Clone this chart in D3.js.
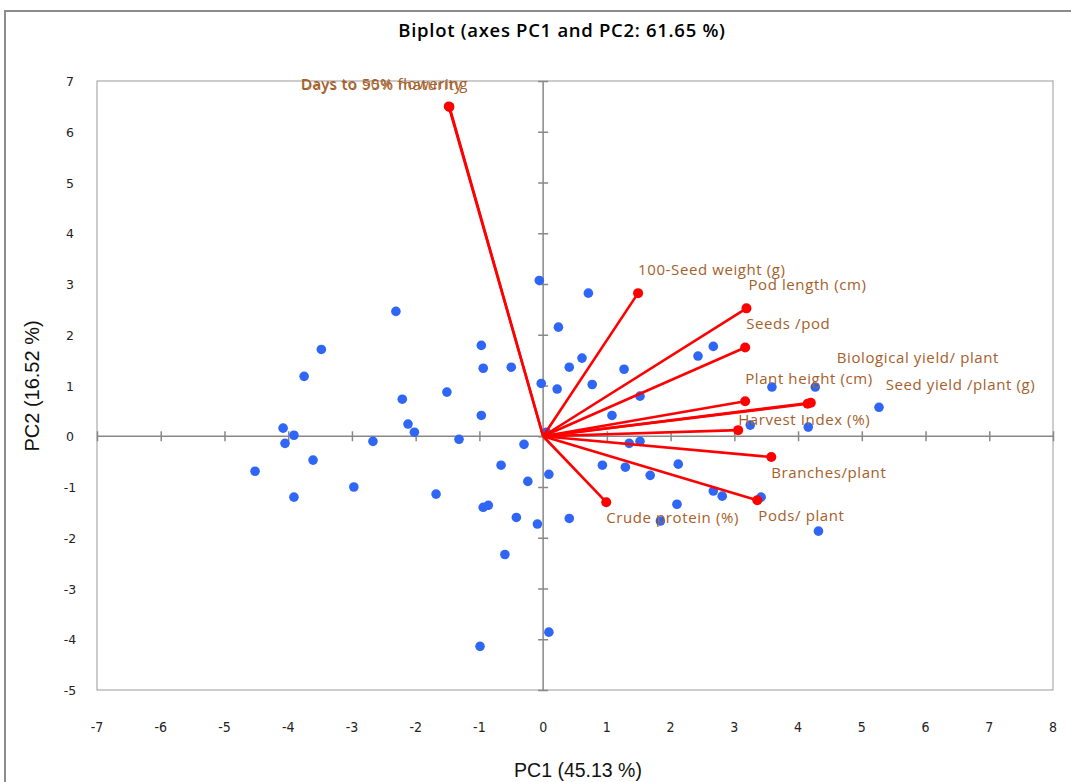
<!DOCTYPE html>
<html>
<head>
<meta charset="utf-8">
<script src="https://cdn.jsdelivr.net/npm/d3@7"></script>
<style>
  body { margin: 0; background: #fff; }
  .var-label { font-family: "Open Sans", sans-serif; font-size: 15px; letter-spacing: 0.6px; fill: #A5602A; }
</style>
</head>
<body>
<svg id="biplot" width="1071" height="782"></svg>
<script>
const SVG = d3.select('#biplot');

// observations (PC1, PC2)
const OBS_PC1 = [-0.06, 0.71, 0.24, -2.31, -0.97, -0.94, -0.50, -3.48, -3.75, 0.41,
    0.61, 1.27, -0.03, 0.22, 0.77, -1.51, 1.52, -0.97, 1.08, -1.32,
    -0.30, 0.05, 1.35, 1.52, 2.43, 2.67, 3.59, 4.27, 5.27, 3.25,
    4.16, 0.93, 1.29, 1.68, 2.12, 2.67, 2.81, 3.42, 2.10, 1.84,
    4.32, -2.21, -4.08, -2.12, -2.02, -3.91, -4.05, -2.67, -3.61, -4.52,
    -0.66, 0.09, -2.97, -0.24, -3.91, -1.68, -0.94, -0.86, -0.42, -0.09,
    0.41, -0.60, 0.09, -0.99];
const OBS_PC2 = [3.07, 2.82, 2.15, 2.46, 1.79, 1.34, 1.36, 1.71, 1.18, 1.36,
    1.54, 1.32, 1.04, 0.93, 1.02, 0.87, 0.79, 0.41, 0.41, -0.06,
    -0.16, 0.08, -0.14, -0.10, 1.58, 1.77, 0.97, 0.97, 0.57, 0.22,
    0.18, -0.57, -0.61, -0.77, -0.55, -1.08, -1.18, -1.20, -1.34, -1.67,
    -1.87, 0.73, 0.16, 0.24, 0.08, 0.02, -0.14, -0.10, -0.47, -0.69,
    -0.57, -0.75, -1.00, -0.89, -1.20, -1.14, -1.40, -1.36, -1.60, -1.73,
    -1.62, -2.33, -3.86, -4.14];

// variables (loadings scaled)
const VARIABLES = ['Days to 50% flowering', 'Days to 95% maturity', '100-Seed weight (g)',
    'Pod length (cm)', 'Seeds /pod', 'Biological yield/ plant', 'Seed yield /plant (g)',
    'Plant height (cm)', 'Harvest Index  (%)', 'Branches/plant', 'Pods/ plant', 'Crude protein (%)'];
const VAR_PC1 = [-1.48, -1.47, 1.49, 3.19, 3.17, 4.20, 4.15, 3.17, 3.06, 3.58, 3.36, 0.99];
const VAR_PC2 = [6.50, 6.49, 2.82, 2.52, 1.75, 0.66, 0.64, 0.69, 0.12, -0.41, -1.26, -1.30];

// label offsets from the arrow tip, px
const LABEL_DX = [-148, -148, 0, 2, 1, 26, 78, 0, 0, 0, 1, 0];
const LABEL_DY = [-22, -22, -23, -23, -23, -45, -19, -22, -10, 16, 16, 16];

const X_TICKS = d3.range(-7, 9);
const Y_TICKS = d3.range(-5, 8);

const LEFT = 97, RIGHT = 1053, TOP = 81, BOTTOM = 690;

const x = d3.scaleLinear().domain([-7, 8]).range([LEFT, RIGHT]);
const y = d3.scaleLinear().domain([-5, 7]).range([BOTTOM, TOP]);

// outer chart frame
SVG.append('rect')
    .attr('x', 5).attr('y', 11)
    .attr('width', 1100).attr('height', 800)
    .attr('fill', 'none')
    .attr('stroke', '#8c8c8c')
    .attr('stroke-width', 2);

// title
SVG.append('text')
    .attr('x', 562).attr('y', 37)
    .attr('text-anchor', 'middle')
    .style('font-family', '"Open Sans", sans-serif')
    .style('font-size', '18.5px')
    .style('font-weight', 600)
    .style('letter-spacing', '0.7px')
    .attr('fill', '#000')
    .text('Biplot (axes PC1 and PC2: 61.65 %)');

// plot box
SVG.append('rect')
    .attr('x', LEFT).attr('y', TOP)
    .attr('width', RIGHT - LEFT).attr('height', BOTTOM - TOP)
    .attr('fill', 'none')
    .attr('stroke', '#9a9a9a')
    .attr('stroke-width', 1);

// axes through the origin
const xAxis = d3.axisBottom(x).tickValues(X_TICKS).tickSize(10).tickFormat('');
SVG.append('g')
    .attr('transform', `translate(0,${y(0) - 5})`)
    .call(xAxis)
    .call(g => g.select('.domain').remove())
    .call(g => g.selectAll('line').attr('stroke', '#888').attr('stroke-width', 1.5));
SVG.append('line')
    .attr('x1', LEFT).attr('x2', RIGHT)
    .attr('y1', y(0)).attr('y2', y(0))
    .attr('stroke', '#888').attr('stroke-width', 1.5);

const yAxis = d3.axisRight(y).tickValues(Y_TICKS).tickSize(10).tickFormat('');
SVG.append('g')
    .attr('transform', `translate(${x(0) - 5},0)`)
    .call(yAxis)
    .call(g => g.select('.domain').remove())
    .call(g => g.selectAll('line').attr('stroke', '#888').attr('stroke-width', 1.5));
SVG.append('line')
    .attr('x1', x(0)).attr('x2', x(0))
    .attr('y1', TOP).attr('y2', BOTTOM)
    .attr('stroke', '#888').attr('stroke-width', 1.5);

// tick labels
SVG.selectAll('.x-tick-label')
    .data(X_TICKS)
    .enter()
    .append('text')
    .attr('class', 'x-tick-label')
    .attr('x', d => x(d))
    .attr('y', 732)
    .attr('text-anchor', 'middle')
    .style('font-family', '"Liberation Sans Narrow", "DejaVu Sans Condensed", sans-serif')
    .style('font-size', '14px')
    .attr('fill', '#222')
    .text(d => d);

SVG.selectAll('.y-tick-label')
    .data(Y_TICKS)
    .enter()
    .append('text')
    .attr('class', 'y-tick-label')
    .attr('x', 70)
    .attr('y', d => y(d) + 5)
    .attr('text-anchor', 'middle')
    .style('font-family', '"DejaVu Sans", sans-serif')
    .style('font-size', '12.5px')
    .attr('fill', '#222')
    .text(d => d);

// axis titles
SVG.append('text')
    .attr('x', 578).attr('y', 777)
    .attr('text-anchor', 'middle')
    .style('font-family', '"Liberation Sans", Arial, sans-serif')
    .style('font-size', '19.5px')
    .attr('fill', '#111')
    .text('PC1 (45.13 %)');

SVG.append('text')
    .attr('transform', 'translate(39,386) rotate(-90)')
    .attr('text-anchor', 'middle')
    .style('font-family', '"Liberation Sans", Arial, sans-serif')
    .style('font-size', '20px')
    .attr('fill', '#111')
    .text('PC2 (16.52 %)');

// observations
SVG.selectAll('.obs')
    .data(d3.zip(OBS_PC1, OBS_PC2))
    .enter()
    .append('circle')
    .attr('class', 'obs')
    .attr('cx', d => x(d[0]))
    .attr('cy', d => y(d[1]))
    .attr('r', 4.8)
    .attr('fill', '#2f66f5');

// variable vectors
const VARS = VARIABLES.map((name, i) => ({name, pc1: VAR_PC1[i], pc2: VAR_PC2[i], dx: LABEL_DX[i], dy: LABEL_DY[i]}));

SVG.selectAll('.vec')
    .data(VARS)
    .enter()
    .append('line')
    .attr('class', 'vec')
    .attr('x1', x(0)).attr('y1', y(0))
    .attr('x2', d => x(d.pc1))
    .attr('y2', d => y(d.pc2))
    .attr('stroke', '#ff0000')
    .attr('stroke-width', 2.6);

SVG.selectAll('.vec-tip')
    .data(VARS)
    .enter()
    .append('circle')
    .attr('class', 'vec-tip')
    .attr('cx', d => x(d.pc1))
    .attr('cy', d => y(d.pc2))
    .attr('r', 5)
    .attr('fill', '#ff0000');

SVG.selectAll('.var-label')
    .data(VARS)
    .enter()
    .append('text')
    .attr('class', 'var-label')
    .attr('x', d => x(d.pc1) + d.dx)
    .attr('y', d => y(d.pc2) + d.dy + 5)
    .text(d => d.name);
</script>
</body>
</html>
